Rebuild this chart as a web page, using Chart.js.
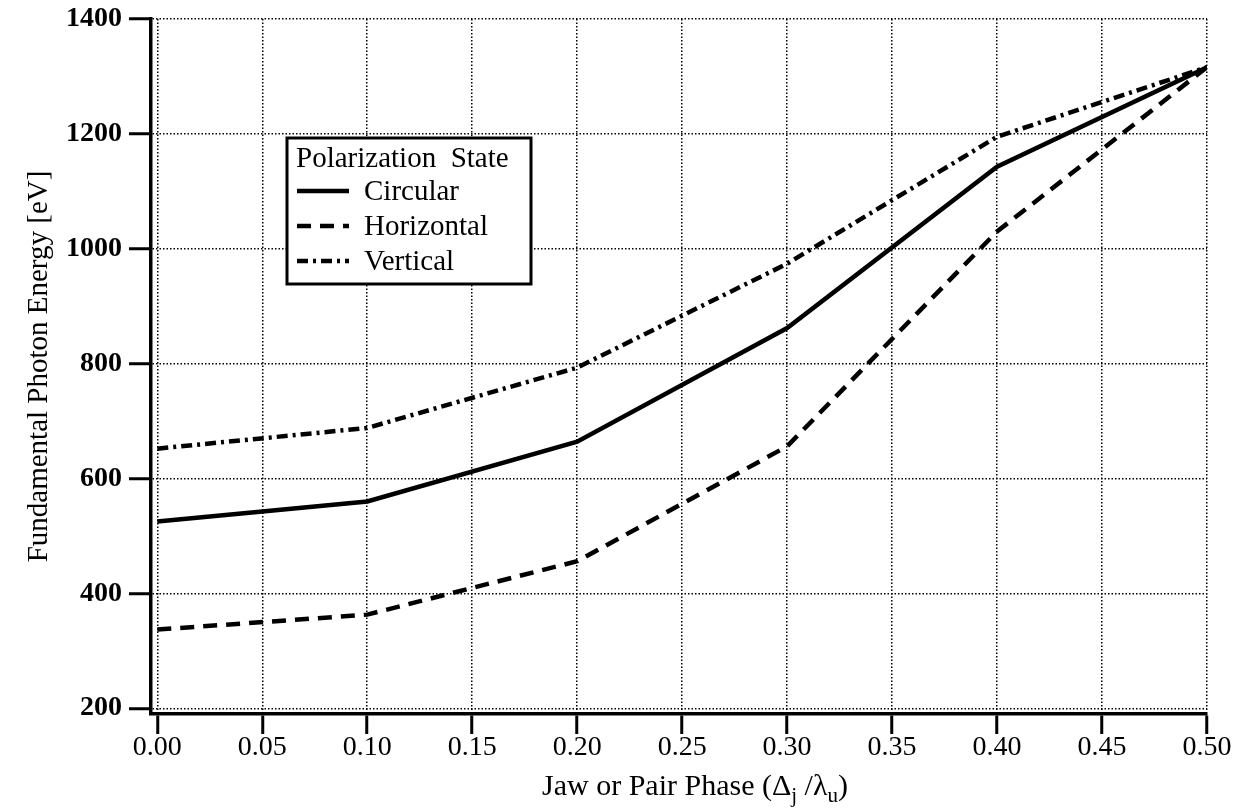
<!DOCTYPE html>
<html>
<head>
<meta charset="utf-8">
<script src="https://cdn.jsdelivr.net/npm/chart.js@4.4.0/dist/chart.umd.min.js"></script>
<style>
  html, body { margin: 0; padding: 0; background: #fff; }
  #wrap { width: 1241px; height: 811px; }
</style>
</head>
<body>
<div id="wrap"><canvas id="chart" width="1241" height="811"></canvas></div>
<script>
// jaw / pair phase (fraction of undulator period)
const phase = [0.0, 0.1, 0.2, 0.3, 0.4, 0.5];
// fundamental photon energy in eV, one array per polarization state
const circular = [525, 560, 664, 862, 1143, 1316];
const horizontal = [337, 363, 456, 656, 1030, 1316];
const vertical = [652, 688, 793, 974, 1195, 1316];

const xTicks = [0.00, 0.05, 0.10, 0.15, 0.20, 0.25, 0.30, 0.35, 0.40, 0.45, 0.50];
const yTicks = [200, 400, 600, 800, 1000, 1200, 1400];

const SERIF = '"Liberation Serif", "Times New Roman", serif';

function points(ys) {
    return ys.map((y, i) => ({ x: phase[i], y: y }));
}

// boxed legend sitting inside the plot, like the original figure
const legendBox = {
    id: 'legendBox',
    afterDraw(chart) {
        const ctx = chart.ctx;
        const left = 287, top = 138, w = 244, h = 146;
        ctx.save();
        ctx.fillStyle = '#fff';
        ctx.fillRect(left, top, w, h);
        ctx.lineWidth = 3;
        ctx.strokeStyle = '#000';
        ctx.setLineDash([]);
        ctx.strokeRect(left, top, w, h);

        ctx.fillStyle = '#000';
        ctx.font = '29px ' + SERIF;
        ctx.textBaseline = 'alphabetic';
        ctx.fillText('Polarization  State', left + 9, top + 29);

        const rows = [191, 226, 261];
        chart.data.datasets.forEach((ds, i) => {
            const y = rows[i];
            ctx.beginPath();
            ctx.lineWidth = ds.borderWidth;
            ctx.setLineDash(ds.borderDash || []);
            ctx.moveTo(left + 10, y);
            ctx.lineTo(left + 62, y);
            ctx.stroke();
            ctx.setLineDash([]);
            ctx.fillText(ds.label, left + 77, y + 9);
        });
        ctx.restore();
    }
};

// x axis title with subscripts (Δj / λu)
const xTitle = {
    id: 'xTitle',
    afterDraw(chart) {
        const ctx = chart.ctx;
        const area = chart.chartArea;
        const big = '30px ' + SERIF;
        const small = '21px ' + SERIF;
        const parts = [
            ['Jaw or Pair Phase (\u0394', big, 0],
            ['j', small, 7],
            [' /\u03bb', big, 0],
            ['u', small, 7],
            [')', big, 0]
        ];
        ctx.save();
        ctx.fillStyle = '#000';
        ctx.textBaseline = 'alphabetic';
        let total = 0;
        parts.forEach(p => { ctx.font = p[1]; total += ctx.measureText(p[0]).width; });
        let x = (area.left + area.right) / 2 + 16 - total / 2;
        const base = 795;
        parts.forEach(p => {
            ctx.font = p[1];
            ctx.fillText(p[0], x, base + p[2]);
            x += ctx.measureText(p[0]).width;
        });
        ctx.restore();
    }
};

const ctx = document.getElementById('chart').getContext('2d');
const chart = new Chart(ctx, {
    type: 'line',
    data: {
        datasets: [{
            label: 'Circular',
            data: points(circular),
            borderColor: '#000',
            borderWidth: 4.5,
            borderDash: [],
        }, {
            label: 'Horizontal',
            data: points(horizontal),
            borderColor: '#000',
            borderWidth: 4.5,
            borderDash: [14, 9],
        }, {
            label: 'Vertical',
            data: points(vertical),
            borderColor: '#000',
            borderWidth: 4.5,
            borderDash: [11, 5, 3, 5],
        }]
    },
    options: {
        responsive: false,
        animation: false,
        events: [],
        layout: {
            padding: { top: 19, right: 34, left: 0, bottom: 0 },
        },
        elements: {
            point: { radius: 0 },
            line: { tension: 0, borderCapStyle: 'butt' },
        },
        plugins: {
            legend: { display: false },
            tooltip: { enabled: false },
        },
        scales: {
            x: {
                type: 'linear',
                min: -0.003,
                max: 0.5,
                afterFit: (scale) => {
                    scale.height = 97;
                    scale.paddingLeft = 0;
                    scale.paddingRight = 0;
                },
                afterBuildTicks: (scale) => { scale.ticks = xTicks.map(v => ({ value: v })); },
                grid: {
                    color: '#000',
                    lineWidth: 1.5,
                    tickLength: 20,
                    tickWidth: 3,
                    tickColor: '#000',
                    tickBorderDash: [],
                },
                border: { display: true, color: '#000', width: 3.5, dash: [1.5, 2] },
                ticks: {
                    color: '#000',
                    font: { family: SERIF, size: 28 },
                    padding: -3,
                    maxRotation: 0,
                    autoSkip: false,
                    callback: (v) => Number(v).toFixed(2),
                },
            },
            y: {
                type: 'linear',
                min: 190,
                max: 1400,
                afterFit: (scale) => {
                    scale.width = 151;
                    scale.paddingTop = 0;
                    scale.paddingBottom = 0;
                },
                afterBuildTicks: (scale) => { scale.ticks = yTicks.map(v => ({ value: v })); },
                grid: {
                    color: '#000',
                    lineWidth: 1.5,
                    tickLength: 22,
                    tickWidth: 3,
                    tickColor: '#000',
                    tickBorderDash: [],
                },
                border: { display: true, color: '#000', width: 3.5, dash: [1.5, 2] },
                ticks: {
                    color: '#000',
                    font: { family: SERIF, size: 28, weight: 'bold' },
                    padding: 7,
                    autoSkip: false,
                    callback: (v) => String(v),
                },
                title: {
                    display: true,
                    text: 'Fundamental Photon Energy [eV]',
                    color: '#000',
                    font: { family: SERIF, size: 29 },
                    padding: { top: 22, bottom: 0 },
                },
            },
        },
    },
    plugins: [legendBox, xTitle],
});
</script>
</body>
</html>
